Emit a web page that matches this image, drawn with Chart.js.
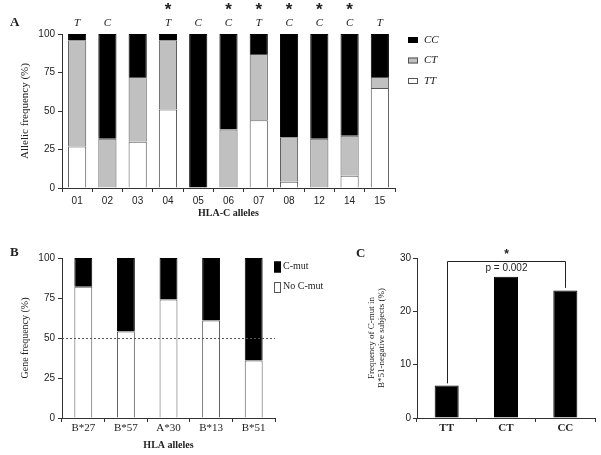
<!DOCTYPE html>
<html>
<head>
<meta charset="utf-8">
<script src="https://cdn.jsdelivr.net/npm/chart.js@4.4.0/dist/chart.umd.min.js"></script>
<style>
  body { margin: 0; background: #fff; }
  #wrap { position: relative; width: 601px; height: 455px; overflow: hidden; }
  canvas { position: absolute; }
</style>
</head>
<body>
<div id="wrap">
  <canvas id="chartA" width="601" height="220" style="left:0;top:0;"></canvas>
  <canvas id="chartB" width="345" height="235" style="left:0;top:220px;"></canvas>
  <canvas id="chartC" width="256" height="235" style="left:345px;top:220px;"></canvas>
</div>
<script>
// panel A - genotype frequency per HLA-C allele
const alleles = ['01', '02', '03', '04', '05', '06', '07', '08', '12', '14', '15'];
const ttFreq = [27, 0, 30, 51, 0, 0, 44, 4, 0, 8, 65];
const ctFreq = [69, 32, 42, 45, 0, 38, 43, 29, 32, 26, 7];
const ccFreq = [4, 68, 28, 4, 100, 62, 13, 67, 68, 66, 28];
const topLetters = ['T', 'C', '', 'T', 'C', 'C', 'T', 'C', 'C', 'C', 'T'];
const starred = [false, false, false, true, false, true, true, true, true, true, false];
const ticksA = [0, 25, 50, 75, 100];

// panel B - C-mut per HLA allele
const hlaAlleles = ['B*27', 'B*57', 'A*30', 'B*13', 'B*51'];
const noCmut = [82, 54, 74, 61, 36];
const cmut = [18, 46, 26, 39, 64];

// panel C - C-mut in B*51 negative subjects
const genotypes = ['TT', 'CT', 'CC'];
const cmutFreq = [6.1, 26.5, 23.9];

const serif = '"Liberation Serif", "Times New Roman", serif';
const sans = '"Liberation Sans", Arial, sans-serif';
const narrow = '"Liberation Sans Narrow", "Liberation Serif", serif';
const txt = '#222';
const axisCol = '#333';

Chart.defaults.color = txt;
Chart.defaults.font.family = sans;

function axisY(min, max, step, title, width, tickPad, titleFont, titlePad){
  return {
    min: min, max: max, stacked: true,
    afterFit(scale){ scale.width = width; },
    ticks: { stepSize: step, padding: tickPad, font: { family: sans, size: 10 }, color: txt },
    grid: { drawOnChartArea: false, drawTicks: true, tickLength: 4, color: axisCol },
    border: { display: true, color: axisCol },
    title: { display: true, text: title, font: titleFont, padding: titlePad, color: txt }
  };
}
function axisX(height, tickFont, tickPad, title, titlePad){
  const ax = {
    stacked: true,
    afterFit(scale){ scale.height = height; },
    ticks: { font: tickFont, padding: tickPad, color: txt, maxRotation: 0, autoSkip: false },
    grid: { drawOnChartArea: false, drawTicks: true, tickLength: 4, color: axisCol },
    border: { display: true, color: axisCol }
  };
  if (title) ax.title = { display: true, text: title, font: { family: serif, size: 10, weight: 'bold' }, padding: titlePad, color: txt };
  return ax;
}

// --- A ---
const annotA = {
  id: 'annotA',
  afterDraw(chart){
    const ctx = chart.ctx;
    const x = chart.scales.x;
    ctx.save();
    ctx.fillStyle = txt;
    ctx.textAlign = 'center';
    ctx.textBaseline = 'middle';
    alleles.forEach((a, i) => {
      const px = x.getPixelForValue(i);
      ctx.font = 'italic 11px ' + serif;
      ctx.fillText(topLetters[i], px, 23);
      if (starred[i]) {
        ctx.font = 'bold 17px ' + sans;
        ctx.fillText('*', px, 10);
      }
    });
    ctx.textAlign = 'left';
    ctx.font = 'bold 13px ' + serif;
    ctx.fillText('A', 10, 23);
    // legend
    const legY = [40, 60.5, 81];
    const ds = chart.data.datasets.slice().reverse();
    ds.forEach((d, i) => {
      ctx.fillStyle = d.backgroundColor;
      ctx.strokeStyle = d.borderColor;
      ctx.lineWidth = 1;
      ctx.fillRect(408, legY[i] - 3, 10, 6);
      ctx.strokeRect(408.5, legY[i] - 2.5, 9, 5);
      ctx.fillStyle = txt;
      ctx.font = 'italic 11px ' + serif;
      ctx.fillText(d.label, 424, legY[i]);
    });
    ctx.restore();
  }
};

new Chart('chartA', {
  type: 'bar',
  data: {
    labels: alleles,
    datasets: [
      { label: 'TT', data: ttFreq, backgroundColor: '#ffffff', borderColor: '#555', borderWidth: 1 },
      { label: 'CT', data: ctFreq, backgroundColor: '#c0c0c0', borderColor: '#555', borderWidth: 1 },
      { label: 'CC', data: ccFreq, backgroundColor: '#000000', borderColor: '#000', borderWidth: 1 }
    ]
  },
  options: {
    responsive: false,
    animation: false,
    layout: { padding: { left: 15, right: 206, top: 34, bottom: 0 } },
    datasets: { bar: { categoryPercentage: 1, barPercentage: 0.6 } },
    plugins: { legend: { display: false }, tooltip: { enabled: false } },
    scales: {
      x: axisX(32, { family: sans, size: 10 }, 3, 'HLA-C alleles', { top: 0, bottom: 1 }),
      y: Object.assign(axisY(0, 100, 25, 'Allelic frequency (%)', 47, 3, { family: serif, size: 11 }, { top: 4, bottom: 0 }), {
        afterBuildTicks(scale){ scale.ticks = ticksA.map(v => ({ value: v })); }
      })
    }
  },
  plugins: [annotA]
});

// --- B ---
const annotB = {
  id: 'annotB',
  afterDatasetsDraw(chart){
    const ctx = chart.ctx;
    const y = chart.scales.y;
    const area = chart.chartArea;
    ctx.save();
    ctx.strokeStyle = '#555';
    ctx.setLineDash([2, 2]);
    ctx.lineWidth = 1;
    const py = Math.round(y.getPixelForValue(50)) + 0.5;
    ctx.beginPath();
    ctx.moveTo(area.left, py);
    ctx.lineTo(area.right, py);
    ctx.stroke();
    ctx.restore();
  },
  afterDraw(chart){
    const ctx = chart.ctx;
    ctx.save();
    ctx.fillStyle = txt;
    ctx.textBaseline = 'middle';
    ctx.font = 'bold 13px ' + serif;
    ctx.fillText('B', 10, 33);
    const legY = [47, 67.5];
    const ds = chart.data.datasets.slice().reverse();
    ds.forEach((d, i) => {
      ctx.fillStyle = d.backgroundColor;
      ctx.strokeStyle = d.borderColor;
      ctx.fillRect(274, legY[i] - 5.5, 7, 11);
      ctx.strokeRect(274.5, legY[i] - 5, 6, 10);
      ctx.fillStyle = txt;
      ctx.font = '10px ' + serif;
      ctx.fillText(d.label, 283, legY[i] - 1);
    });
    ctx.restore();
  }
};

new Chart('chartB', {
  type: 'bar',
  data: {
    labels: hlaAlleles,
    datasets: [
      { label: 'No C-mut', data: noCmut, backgroundColor: '#ffffff', borderColor: '#555', borderWidth: 1 },
      { label: 'C-mut', data: cmut, backgroundColor: '#000000', borderColor: '#000', borderWidth: 1 }
    ]
  },
  options: {
    responsive: false,
    animation: false,
    layout: { padding: { left: 15, right: 70, top: 38, bottom: 0 } },
    datasets: { bar: { categoryPercentage: 1, barPercentage: 0.42 } },
    plugins: { legend: { display: false }, tooltip: { enabled: false } },
    scales: {
      x: axisX(37, { family: serif, size: 11 }, 0, 'HLA alleles', { top: 0, bottom: 4 }),
      y: axisY(0, 100, 25, 'Gene frequency (%)', 47, 3, { family: narrow, size: 10 }, { top: 4, bottom: 0 })
    }
  },
  plugins: [annotB]
});

// --- C ---
const annotC = {
  id: 'annotC',
  afterDraw(chart){
    const ctx = chart.ctx;
    const x = chart.scales.x;
    const y = chart.scales.y;
    const x0 = Math.round(x.getPixelForValue(0)) + 0.5;
    const x2 = Math.round(x.getPixelForValue(2)) + 0.5;
    const top = Math.round(y.getPixelForValue(29.4)) + 0.5;
    ctx.save();
    ctx.strokeStyle = '#222';
    ctx.lineWidth = 1;
    ctx.beginPath();
    ctx.moveTo(x0, y.getPixelForValue(cmutFreq[0] + 0.4));
    ctx.lineTo(x0, top);
    ctx.lineTo(x2, top);
    ctx.lineTo(x2, y.getPixelForValue(cmutFreq[2] + 0.5));
    ctx.stroke();
    const mid = (x0 + x2) / 2;
    ctx.fillStyle = txt;
    ctx.textAlign = 'center';
    ctx.textBaseline = 'middle';
    ctx.font = 'bold 12px ' + sans;
    ctx.fillText('*', mid, 35);
    ctx.font = '10px ' + sans;
    ctx.fillText('p = 0.002', mid, 48);
    ctx.textAlign = 'left';
    ctx.font = 'bold 13px ' + serif;
    ctx.fillText('C', 11, 34);
    ctx.restore();
  }
};

new Chart('chartC', {
  type: 'bar',
  data: {
    labels: genotypes,
    datasets: [
      { label: 'C-mut', data: cmutFreq, backgroundColor: '#000000', borderColor: '#000', borderWidth: 1 }
    ]
  },
  options: {
    responsive: false,
    animation: false,
    layout: { padding: { left: 14, right: 6, top: 38, bottom: 0 } },
    datasets: { bar: { categoryPercentage: 1, barPercentage: 0.405 } },
    plugins: { legend: { display: false }, tooltip: { enabled: false } },
    scales: {
      x: axisX(37, { family: serif, size: 11, weight: 'bold' }, 0, null, null),
      y: axisY(0, 30, 10, ['Frequency of C-mut in', 'B*51-negative subjects (%)'], 58, 2,
        { family: serif, size: 9, lineHeight: 1.1 }, { top: 8, bottom: 0 })
    }
  },
  plugins: [annotC]
});
</script>
</body>
</html>
